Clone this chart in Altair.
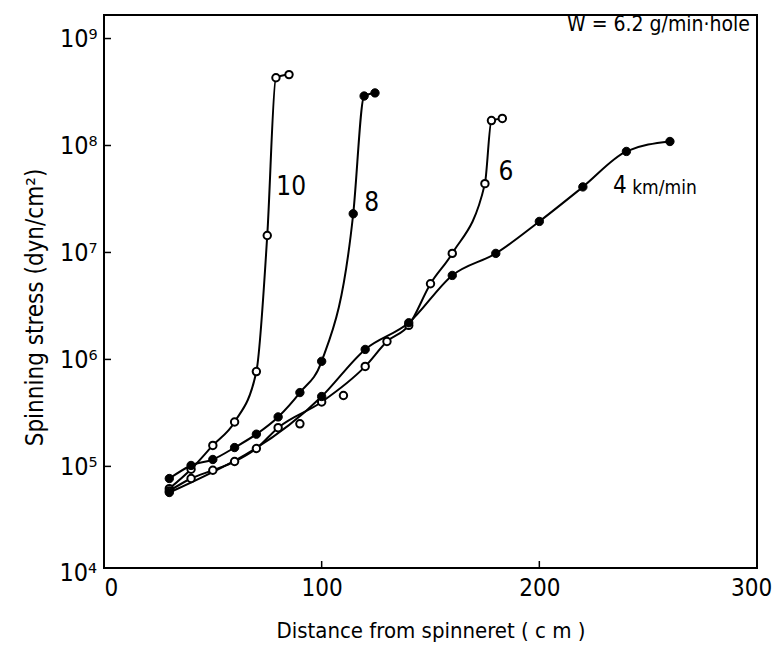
import altair as alt
import pandas as pd

# Distance from spinneret (cm) and spinning stress (dyn/cm^2), one pair of lists per take-up speed
x10 = [30, 40, 50, 60, 70, 75, 79, 85]
y10 = [6.2e4, 9.4e4, 1.57e5, 2.6e5, 7.7e5, 1.44e7, 4.3e8, 4.6e8]

x8 = [30, 40, 50, 60, 70, 80, 90, 100, 114.5, 119.5, 124.5]
y8 = [7.7e4, 1.02e5, 1.16e5, 1.5e5, 2.0e5, 2.9e5, 4.9e5, 9.6e5, 2.3e7, 2.9e8, 3.1e8]

x6 = [30, 40, 50, 60, 70, 80, 90, 100, 110, 120, 130, 140, 150, 160, 175, 178, 183]
y6 = [5.9e4, 7.7e4, 9.2e4, 1.11e5, 1.47e5, 2.3e5, 2.5e5, 4.0e5, 4.6e5, 8.6e5,
      1.47e6, 2.08e6, 5.1e6, 9.8e6, 4.4e7, 1.71e8, 1.79e8]
# scattered measurements of the 6 km/min run that the smooth curve does not pass through
x6_off = [90, 110]

x4 = [30, 100, 120, 140, 160, 180, 200, 220, 240, 260]
y4 = [5.7e4, 4.5e5, 1.24e6, 2.2e6, 6.1e6, 9.8e6, 1.95e7, 4.1e7, 8.8e7, 1.09e8]

series_names = ["10", "8", "6", "4"]
series_filled = [False, True, False, True]

# curve labels placed next to each curve (data coordinates)
label_text = ["10", "8", "6", "4", "km/min"]
label_x = [86, 123, 184.7, 237, 257.5]
label_y = [4.1e7, 2.9e7, 5.7e7, 4.2e7, 4.0e7]
label_size = [26, 26, 26, 24, 19]

y_tick_values = [1e5, 1e6, 1e7, 1e8, 1e9]
x_tick_values = [0, 100, 200, 300]

rows = []
for name, filled, xs, ys in zip(series_names, series_filled, [x10, x8, x6, x4], [y10, y8, y6, y4]):
    for i, (xv, yv) in enumerate(zip(xs, ys)):
        on_curve = not (name == "6" and xv in x6_off)
        rows.append({"series": name, "filled": filled, "order": i, "dist": xv,
                     "stress": yv, "on_curve": on_curve})
df = pd.DataFrame(rows)

FONT = "'Liberation Sans Narrow', 'DejaVu Sans Condensed', 'Liberation Sans', sans-serif"
W, H = 653, 553

xscale = alt.Scale(domain=[0, 300], nice=False, zero=False)
yscale = alt.Scale(type="log", domain=[10 ** 4.05, 10 ** 9.22], nice=False)

sup = "['\u2070','\u00b9','\u00b2','\u00b3','\u2074','\u2075','\u2076','\u2077','\u2078','\u2079'][round(log(datum.value)/LN10)]"

x_enc = alt.X(
    "dist:Q",
    scale=xscale,
    axis=alt.Axis(
        values=x_tick_values,
        title="Distance  from spinneret  ( c m )",
        labelFontSize=24,
        labelPadding=8,
        labelFlush=False,
        labelAlign=alt.ExprRef(expr="datum.value == 0 ? 'left' : 'center'"),
        labelOffset=alt.ExprRef(expr="datum.value == 300 ? -6 : 0"),
        titleFontSize=22,
        titlePadding=20,
        ticks=False,
        domain=False,
        grid=False,
    ),
)
y_enc = alt.Y(
    "stress:Q",
    scale=yscale,
    axis=alt.Axis(
        values=y_tick_values,
        labelExpr="'10' + " + sup,
        title="Spinning  stress   (dyn/cm\u00b2)",
        labelFontSize=25,
        labelPadding=7,
        titleFontSize=24,
        titlePadding=12,
        titleY=292,
        ticks=False,
        domain=False,
        grid=False,
    ),
)

base = alt.Chart(df)

lines = base.transform_filter("datum.on_curve").mark_line(
    color="black", strokeWidth=2, interpolate="monotone"
).encode(x=x_enc, y=y_enc, detail="series:N", order="order:Q")

open_pts = base.transform_filter("!datum.filled").mark_point(
    shape="circle", filled=True, fill="white", stroke="black", strokeWidth=2, size=55, opacity=1
).encode(x=alt.X("dist:Q", scale=xscale), y=alt.Y("stress:Q", scale=yscale))

filled_pts = base.transform_filter("datum.filled").mark_point(
    shape="circle", filled=True, fill="black", stroke="black", strokeWidth=1, size=70, opacity=1
).encode(x=alt.X("dist:Q", scale=xscale), y=alt.Y("stress:Q", scale=yscale))

labels_df = pd.DataFrame({"t": label_text, "x": label_x, "y": label_y, "s": label_size})
labels = alt.Chart(labels_df).mark_text(font=FONT, align="center", baseline="middle", color="black").encode(
    x=alt.X("x:Q", scale=xscale),
    y=alt.Y("y:Q", scale=yscale),
    text="t:N",
    size=alt.Size("s:Q", scale=None, legend=None),
)

# inward tick marks on the left and bottom edges
yt = alt.Chart(pd.DataFrame({"v": y_tick_values})).mark_rule(color="black", strokeWidth=1.5).encode(
    y=alt.Y("v:Q", scale=yscale), x=alt.value(0), x2=alt.value(7)
)
xt = alt.Chart(pd.DataFrame({"v": x_tick_values[1:3]})).mark_rule(color="black", strokeWidth=1.5).encode(
    x=alt.X("v:Q", scale=xscale), y=alt.value(H), y2=alt.value(H - 7)
)

# lowest decade label sits just below the frame
low_lab = alt.Chart(pd.DataFrame({"v": [1e4], "t": ["10\u2074"]})).mark_text(
    font=FONT, fontSize=25, align="right", baseline="middle", color="black", dx=-7
).encode(y=alt.Y("v:Q", scale=yscale), x=alt.value(0), text="t:N")

note = alt.Chart(pd.DataFrame({"t": ["W = 6.2 g/min\u00b7hole"]})).mark_text(
    font=FONT, fontSize=21, align="right", baseline="middle", color="black"
).encode(x=alt.value(W - 7), y=alt.value(10), text="t:N")

chart = alt.layer(lines, open_pts, filled_pts, labels, yt, xt, low_lab, note).properties(
    width=W,
    height=H,
    autosize=alt.AutoSizeParams(type="none"),
    padding={"left": 104, "top": 15, "right": 16, "bottom": 81},
).configure(
    background="white"
).configure_view(
    stroke="black", strokeWidth=2
).configure_axis(
    labelFont=FONT, titleFont=FONT, labelColor="black", titleColor="black", titleFontWeight="normal"
)

chart.save("out.html", embed_options={"renderer": "svg", "actions": False})
